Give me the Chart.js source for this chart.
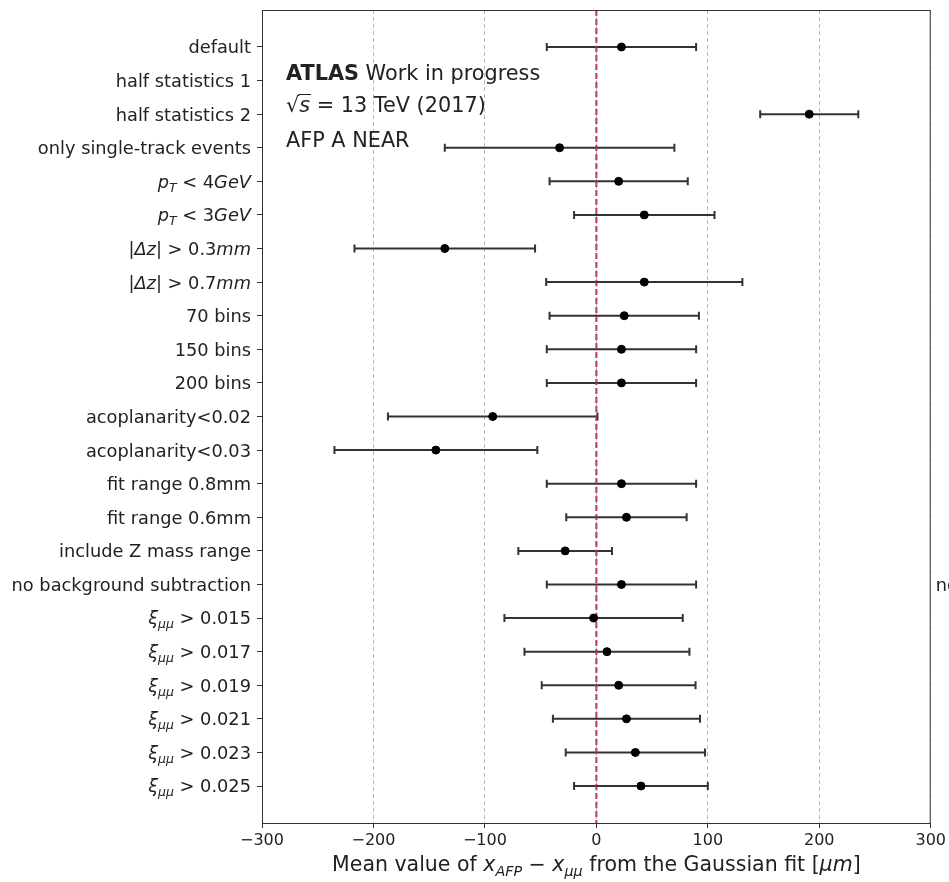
<!DOCTYPE html>
<html lang="en">
<head>
<meta charset="UTF-8">
<title>AFP A NEAR - mean value systematics</title>
<style>
    html, body {
        margin: 0;
        padding: 0;
        background: #fff;
    }
    canvas {
        display: block;
    }
</style>
</head>
<body>
<canvas id="chart" width="949" height="882"></canvas>

<script src="https://cdn.jsdelivr.net/npm/chart.js"></script>
<script>
    // variations (top to bottom), $...$ parts are drawn like matplotlib mathtext
    const categories = [
        'default',
        'half statistics 1',
        'half statistics 2',
        'only single-track events',
        '$p_T < 4GeV$',
        '$p_T < 3GeV$',
        '$|\\Delta z| > 0.3mm$',
        '$|\\Delta z| > 0.7mm$',
        '70 bins',
        '150 bins',
        '200 bins',
        'acoplanarity<0.02',
        'acoplanarity<0.03',
        'fit range 0.8mm',
        'fit range 0.6mm',
        'include Z mass range',
        'no background subtraction',
        '$\\xi_{\\mu\\mu} > 0.015$',
        '$\\xi_{\\mu\\mu} > 0.017$',
        '$\\xi_{\\mu\\mu} > 0.019$',
        '$\\xi_{\\mu\\mu} > 0.021$',
        '$\\xi_{\\mu\\mu} > 0.023$',
        '$\\xi_{\\mu\\mu} > 0.025$'
    ];
    // mean of x_AFP - x_mumu [um], null = not shown
    const means = [22.5, null, 191, -33, 20, 43, -136, 43, 25, 22.5, 22.5, -93, -144,
                   22.5, 27, -28, 22.5, -2.5, 9.5, 20, 27, 35, 40];
    const errors = [67, null, 44, 103, 62, 63, 81, 88, 67, 67, 67, 94, 91,
                    67, 54, 42, 67, 80, 74, 69, 66, 62.5, 60];
    const xTicks = [-300, -200, -100, 0, 100, 200, 300];
    const xTitle = 'Mean value of $x_{AFP} - x_{\\mu\\mu}$ from the Gaussian fit [$\\mu m$]';
    const cutLabel = 'no background subtraction'; // label of the next panel, cut at the edge

    const FONT = '"DejaVu Sans", sans-serif';
    const TEXT = '#222';

    // tiny mathtext: letters italic, _x / _{..} subscripts, a few greek symbols
    const symbols = { Delta: '\u0394', xi: '\u03be', mu: '\u03bc' };

    function parseMath(s, sub) {
        const runs = [];
        let i = 0;
        while (i < s.length) {
            const c = s[i];
            if (c === ' ') { i++; continue; }
            if (c === '\\') {
                let j = i + 1;
                while (j < s.length && /[A-Za-z]/.test(s[j])) j++;
                runs.push({ t: symbols[s.slice(i + 1, j)] || '', it: true, sub });
                i = j;
                continue;
            }
            if (c === '_') {
                let grp;
                if (s[i + 1] === '{') {
                    const k = s.indexOf('}', i);
                    grp = s.slice(i + 2, k);
                    i = k + 1;
                } else {
                    grp = s[i + 1];
                    i += 2;
                }
                runs.push(...parseMath(grp, true));
                continue;
            }
            if ('<>='.includes(c)) { runs.push({ t: ' ' + c + ' ', it: false, sub }); i++; continue; }
            if (c === '-') { runs.push({ t: ' \u2212 ', it: false, sub }); i++; continue; }
            runs.push({ t: c, it: /[A-Za-z]/.test(c), sub });
            i++;
        }
        return runs;
    }

    function parseLabel(label) {
        return label.split('$').flatMap((p, k) =>
            k % 2 ? parseMath(p, false) : (p ? [{ t: p, it: false, sub: false }] : []));
    }

    function runFont(r, size) {
        return (r.bold ? 'bold ' : '') + (r.it ? 'italic ' : '') + (r.sub ? size * 0.7 : size) + 'px ' + FONT;
    }

    function runsWidth(ctx, runs, size) {
        let w = 0;
        runs.forEach(r => { ctx.font = runFont(r, size); w += ctx.measureText(r.t).width; });
        return w;
    }

    function drawRuns(ctx, runs, x, baseline, size) {
        runs.forEach(r => {
            ctx.font = runFont(r, size);
            ctx.fillText(r.t, x, baseline + (r.sub ? size * 0.22 : 0));
            x += ctx.measureText(r.t).width;
        });
        return x;
    }

    const points = [];
    means.forEach((m, i) => { if (m !== null) points.push({ x: m, y: i }); });

    // error bars and the red zero line, under the markers
    const errorBarPlugin = {
        id: 'errorBars',
        beforeDatasetsDraw(chart) {
            const { ctx, chartArea, scales: { x, y } } = chart;
            ctx.save();
            ctx.strokeStyle = '#333';
            ctx.lineWidth = 2;
            means.forEach((m, i) => {
                if (m === null) return;
                const yy = y.getPixelForValue(i);
                const x0 = x.getPixelForValue(m - errors[i]);
                const x1 = x.getPixelForValue(m + errors[i]);
                ctx.beginPath();
                ctx.moveTo(x0, yy); ctx.lineTo(x1, yy);
                ctx.moveTo(x0, yy - 4); ctx.lineTo(x0, yy + 4);
                ctx.moveTo(x1, yy - 4); ctx.lineTo(x1, yy + 4);
                ctx.stroke();
            });

            const x0 = x.getPixelForValue(0);
            ctx.strokeStyle = 'rgba(185, 45, 65, 0.85)';
            ctx.lineWidth = 2.2;
            ctx.setLineDash([6, 3]);
            ctx.beginPath();
            ctx.moveTo(x0, chartArea.top);
            ctx.lineTo(x0, chartArea.bottom);
            ctx.stroke();
            ctx.restore();
        }
    };

    // frame, category labels, axis title and the ATLAS text
    const decorPlugin = {
        id: 'decor',
        afterDraw(chart) {
            const { ctx, chartArea, scales: { y } } = chart;
            ctx.save();
            ctx.strokeStyle = '#333';
            ctx.lineWidth = 1;
            ctx.strokeRect(chartArea.left + 0.5, chartArea.top + 0.5,
                           chartArea.right - chartArea.left - 1, chartArea.bottom - chartArea.top);

            ctx.fillStyle = TEXT;
            ctx.textBaseline = 'alphabetic';
            ctx.textAlign = 'left';
            const size = 17.8;
            categories.forEach((c, i) => {
                const runs = parseLabel(c);
                const w = runsWidth(ctx, runs, size);
                drawRuns(ctx, runs, chartArea.left - 11 - w, y.getPixelForValue(i) + size * 0.36, size);
            });

            // cut-off label from the neighbouring panel
            ctx.font = size + 'px ' + FONT;
            ctx.fillText(cutLabel, chartArea.right + 5, y.getPixelForValue(16) + size * 0.36);

            const tSize = 20.5;
            const tRuns = parseLabel(xTitle);
            const tw = runsWidth(ctx, tRuns, tSize);
            drawRuns(ctx, tRuns, (chartArea.left + chartArea.right) / 2 - tw / 2, 871, tSize);

            const aSize = 20.8;
            const ax = chartArea.left + 24;
            drawRuns(ctx, [{ t: 'ATLAS', bold: true }, { t: ' Work in progress' }], ax, 80, aSize);
            // sqrt(s) = 13 TeV (2017)
            ctx.font = aSize + 'px ' + FONT;
            ctx.fillText('\u221a', ax, 112);
            const rw = ctx.measureText('\u221a').width;
            ctx.font = 'italic ' + aSize + 'px ' + FONT;
            const sw = ctx.measureText('s').width;
            ctx.fillText('s', ax + rw, 112);
            ctx.strokeStyle = TEXT;
            ctx.lineWidth = 1;
            ctx.beginPath();
            ctx.moveTo(ax + rw - 1, 94.5);
            ctx.lineTo(ax + rw + sw + 1, 94.5);
            ctx.stroke();
            ctx.font = aSize + 'px ' + FONT;
            ctx.fillText(' = 13 TeV (2017)', ax + rw + sw, 112);
            ctx.fillText('AFP A NEAR', ax, 147);
            ctx.restore();
        }
    };

    new Chart(document.getElementById('chart'), {
        type: 'scatter',
        data: {
            datasets: [{
                data: points,
                backgroundColor: '#000',
                borderColor: '#000',
                pointRadius: 4,
                pointHoverRadius: 4
            }]
        },
        options: {
            responsive: false,
            animation: false,
            layout: { padding: { top: 10, right: 18, left: 0, bottom: 0 } },
            plugins: {
                legend: { display: false },
                tooltip: { enabled: false }
            },
            scales: {
                x: {
                    type: 'linear',
                    min: -300,
                    max: 300,
                    afterBuildTicks: s => { s.ticks = xTicks.map(v => ({ value: v })); },
                    afterFit: s => { s.height = 59; },
                    ticks: {
                        color: TEXT,
                        font: { family: FONT, size: 16 },
                        padding: 3,
                        maxRotation: 0,
                        callback: v => (v < 0 ? '\u2212' + Math.abs(v) : String(v))
                    },
                    grid: {
                        color: '#b8b8b8',
                        lineWidth: 1,
                        drawTicks: true,
                        tickLength: 5,
                        tickColor: '#333',
                        tickWidth: 1
                    },
                    border: { display: false, dash: [4, 3] }
                },
                y: {
                    type: 'linear',
                    reverse: true,
                    min: -1.1,
                    max: categories.length - 1 + 1.1,
                    afterBuildTicks: s => { s.ticks = categories.map((c, i) => ({ value: i })); },
                    afterFit: s => { s.width = 262; },
                    ticks: { display: false },
                    grid: {
                        drawOnChartArea: false,
                        drawTicks: true,
                        tickLength: 5,
                        tickColor: '#333',
                        color: '#333'
                    },
                    border: { display: false }
                }
            }
        },
        plugins: [errorBarPlugin, decorPlugin]
    });
</script>
</body>
</html>
